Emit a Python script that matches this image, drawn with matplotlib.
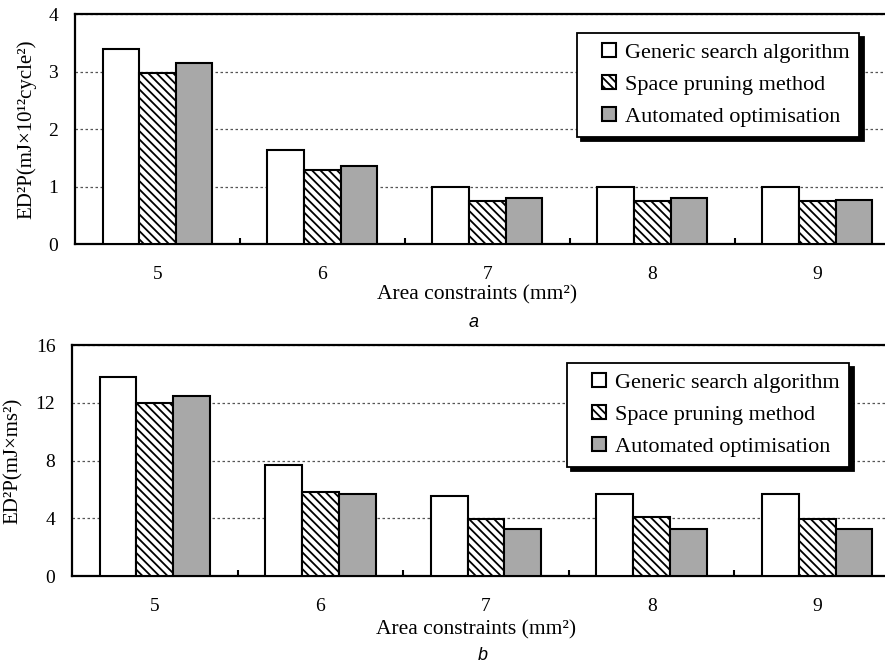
"""Grouped bar charts of ED2P vs area constraint (panels a and b)."""

import matplotlib

matplotlib.use("Agg")

import matplotlib.patches as mpatches  # noqa: E402
import matplotlib.pyplot as plt  # noqa: E402
import numpy as np  # noqa: E402
from matplotlib.container import BarContainer  # noqa: E402
from matplotlib.legend_handler import HandlerPatch, update_from_first_child  # noqa: E402

areas = ["5", "6", "7", "8", "9"]
methods = ["Generic search algorithm", "Space pruning method", "Automated optimisation"]

a_generic = [3.39, 1.63, 0.99, 0.99, 0.99]
a_pruning = [2.97, 1.29, 0.74, 0.74, 0.74]
a_auto = [3.14, 1.35, 0.80, 0.80, 0.77]

b_generic = [13.8, 7.66, 5.54, 5.70, 5.70]
b_pruning = [11.96, 5.80, 3.92, 4.09, 3.92]
b_auto = [12.47, 5.70, 3.23, 3.23, 3.23]

plt.rcParams["font.family"] = ["Liberation Serif", "DejaVu Serif"]
plt.rcParams["hatch.linewidth"] = 1.3

styles = [
    dict(facecolor="white", hatch=None),
    dict(facecolor="white", hatch="\\\\\\\\"),
    dict(facecolor="#a8a8a8", hatch=None),
]


def _square(legend, orig_handle, xdescent, ydescent, width, height, fontsize):
    # small square pushed to the right end of a wider handle box
    return mpatches.Rectangle((width - height - xdescent, -ydescent), height, height)


square_handler = HandlerPatch(patch_func=_square, update_func=update_from_first_child)

fig = plt.figure(figsize=(8.85, 6.66), dpi=100)
ax_a = fig.add_axes([0.0847, 0.6336, 0.932, 0.3453])
ax_b = fig.add_axes([0.0814, 0.1351, 0.9356, 0.3468])


def draw_panel(ax, series, ylim, yticks, ylabel, letter, label_y, letter_xy, legend_xy):
    x = np.arange(len(areas))
    w = 0.222
    for i, (vals, st) in enumerate(zip(series, styles)):
        ax.bar(x + (i - 1) * w, vals, w, edgecolor="black", linewidth=1.5,
               label=methods[i], zorder=3, **st)
    ax.set_xlim(-0.5, len(areas) - 0.5)
    ax.set_ylim(*ylim)
    ax.set_yticks(yticks)
    ax.set_xticks(x)
    ax.set_xticklabels(areas)
    ax.set_xticks(x[:-1] + 0.5, minor=True)
    ax.tick_params(axis="x", which="major", length=0, pad=16, labelsize=14)
    ax.tick_params(axis="x", which="minor", direction="in", length=4, width=1.5)
    ax.tick_params(axis="y", length=0, pad=12, labelsize=14)
    ax.yaxis.grid(True, linestyle=(0, (2, 2)), color="#555555", linewidth=0.9)
    ax.set_axisbelow(True)
    for side in ("left", "top", "bottom"):
        ax.spines[side].set_linewidth(1.6)
    ax.spines["right"].set_visible(False)
    ax.set_xlabel("Area constraints (mm²)", fontsize=15.5)
    ax.xaxis.set_label_coords(0.488, label_y)
    ax.set_ylabel(ylabel, fontsize=15, labelpad=9)
    ax.text(letter_xy[0], letter_xy[1], letter, transform=ax.transAxes, ha="center",
            va="center", fontsize=13, style="italic", family="Liberation Sans")
    leg = ax.legend(loc="upper left", bbox_to_anchor=legend_xy, bbox_transform=fig.transFigure,
                    borderaxespad=0, fancybox=False, edgecolor="black", framealpha=1,
                    fontsize=16, handlelength=1.3, handleheight=0.6, handletextpad=0.4,
                    labelspacing=0.55, borderpad=0.45,
                    handler_map={BarContainer: square_handler},
                    shadow={"ox": 3, "oy": -3, "facecolor": "black", "edgecolor": "black",
                            "alpha": 1})
    leg.get_frame().set_linewidth(1.3)


draw_panel(ax_a, [a_generic, a_pruning, a_auto], (0, 4), [0, 1, 2, 3, 4],
           "ED²P(mJ×10¹²cycle²)", "a", -0.178, (0.483, -0.34), (0.652, 0.9505))
draw_panel(ax_b, [b_generic, b_pruning, b_auto], (0, 16), [0, 4, 8, 12, 16],
           "ED²P(mJ×ms²)", "b", -0.19, (0.496, -0.345), (0.6407, 0.455))

fig.savefig("out.png", dpi=100)
plt.close(fig)
